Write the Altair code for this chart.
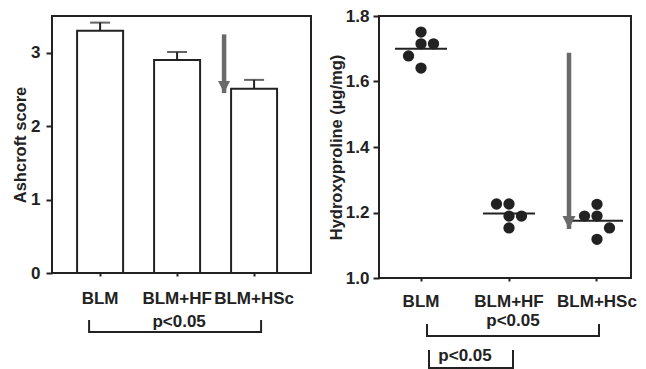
import altair as alt
import pandas as pd

# ---------------- data ----------------
groups = ["BLM", "BLM+HF", "BLM+HSc"]
ashcroft_mean = [3.30, 2.90, 2.51]
ashcroft_sem = [0.11, 0.11, 0.12]

hyp_group = ["BLM"] * 5 + ["BLM+HF"] * 5 + ["BLM+HSc"] * 5
hyp_value = [1.678, 1.751, 1.715, 1.715, 1.641,
             1.226, 1.226, 1.189, 1.189, 1.153,
             1.189, 1.225, 1.189, 1.153, 1.118]
hyp_col = [-1, 0, 0, 1, 0,
           -1, 0, 0, 1, 0,
           -1, 0, 0, 1, 0]

left_arrow = {"group": ["BLM+HSc"], "y0": [3.25], "y1": [2.45]}
right_arrow = {"group": ["BLM+HSc"], "y0": [1.688], "y1": [1.150]}

pval_label = "p<0.05"

left_y_ticks = [0, 1, 2, 3]
right_y_ticks = [1.0, 1.1, 1.2, 1.3, 1.4, 1.5, 1.6, 1.7, 1.8]

# ---------------- style ----------------
INK = "#222222"
ARROW = "#6a6a6a"
FONT = "Liberation Sans"
LW, LH = 259, 257
RW, RH = 252, 262
HEAD = "M-1,-2L1,-2L0,0Z"

xs_left = alt.Scale(type="band", domain=groups, paddingInner=0.4, paddingOuter=0.382, align=0.425)
xs_right = alt.Scale(type="band", domain=groups, paddingInner=0.432, paddingOuter=0.148, align=0.654)


def bracket(a, b, h, line_dy, tip_dy, text_dy, off_a, off_b, scale,
            text_on, text_off, text_align):
    horiz = alt.Chart(pd.DataFrame({"group": [a], "group2": [b]})).mark_rule(
        color=INK, strokeWidth=2, xOffset=off_a, x2Offset=off_b).encode(
        x=alt.X("group:N", scale=scale, title=None), x2="group2:N", y=alt.value(h + line_dy))
    end_a = alt.Chart(pd.DataFrame({"group": [a]})).mark_rule(
        color=INK, strokeWidth=2, xOffset=off_a).encode(
        x=alt.X("group:N", scale=scale, title=None),
        y=alt.value(h + tip_dy), y2=alt.value(h + line_dy + 1))
    end_b = alt.Chart(pd.DataFrame({"group": [b]})).mark_rule(
        color=INK, strokeWidth=2, xOffset=off_b).encode(
        x=alt.X("group:N", scale=scale, title=None),
        y=alt.value(h + tip_dy), y2=alt.value(h + line_dy + 1))
    txt = alt.Chart(pd.DataFrame({"group": [text_on], "label": [pval_label]})).mark_text(
        font=FONT, fontWeight="bold", fontSize=17, color=INK,
        align=text_align, baseline="middle", xOffset=text_off).encode(
        x=alt.X("group:N", scale=scale, title=None), y=alt.value(h + text_dy), text="label:N")
    return [horiz, end_a, end_b, txt]


# ---------------- left panel ----------------
ash = pd.DataFrame({"group": groups, "mean": ashcroft_mean, "sem": ashcroft_sem})
ash["upper"] = ash["mean"] + ash["sem"]

LT = "Ashcroft score"
ly = alt.Scale(domain=[0, 3.5], nice=False, zero=True)
lbase = alt.Chart(ash)
bars = lbase.mark_bar(fill="white", stroke=INK, strokeWidth=2, width=46).encode(
    x=alt.X("group:N", scale=xs_left, sort=groups, title=None,
            axis=alt.Axis(labelAngle=0, tickSize=3, labelPadding=14)),
    y=alt.Y("mean:Q", scale=ly, title=LT,
            axis=alt.Axis(values=left_y_ticks, format="d", tickSize=6,
                          labelPadding=6, titlePadding=2)),
)
err = lbase.mark_rule(color=INK, strokeWidth=2).encode(
    x=alt.X("group:N", scale=xs_left, title=None), y=alt.Y("mean:Q", title=LT), y2="upper:Q")
cap = lbase.mark_tick(color=INK, thickness=2, size=20, orient="horizontal").encode(
    x=alt.X("group:N", scale=xs_left, title=None), y=alt.Y("upper:Q", title=LT))

la = alt.Chart(pd.DataFrame(left_arrow))
la_line = la.mark_rule(color=ARROW, strokeWidth=4.5, xOffset=-30).encode(
    x=alt.X("group:N", scale=xs_left, title=None),
    y=alt.Y("y0:Q", scale=ly, title=LT), y2="y1:Q")
la_head = la.mark_point(shape=HEAD, size=144, filled=True, color=ARROW, opacity=1,
                        strokeWidth=0, xOffset=-30).encode(
    x=alt.X("group:N", scale=xs_left, title=None),
    y=alt.Y("y1:Q", scale=ly, title=LT))

left = alt.layer(
    bars, err, cap, la_line, la_head,
    *bracket("BLM", "BLM+HSc", LH, 59, 47, 49, -11, 7, xs_left, "BLM+HF", 2, "center"),
).properties(width=LW, height=LH)

# ---------------- right panel ----------------
hyp = pd.DataFrame({"group": hyp_group, "value": hyp_value, "col": hyp_col})
ry = alt.Scale(domain=[1.0, 1.8], nice=False, zero=False)
RT = "Hydroxyproline (µg/mg)"
rbase = alt.Chart(hyp)
dots = rbase.mark_circle(size=128, color=INK, opacity=1).encode(
    x=alt.X("group:N", scale=xs_right, sort=groups, title=None,
            axis=alt.Axis(labelAngle=0, tickSize=3, labelPadding=12)),
    xOffset=alt.XOffset("col:Q", scale=alt.Scale(domain=[-2, 2])),
    y=alt.Y("value:Q", scale=ry, title=RT,
            axis=alt.Axis(values=right_y_ticks, tickSize=6, labelPadding=4, titlePadding=1,
                          labelExpr="round(datum.value*10) % 2 == 0 ? format(datum.value, '.1f') : ''")),
)
means = rbase.mark_tick(color=INK, thickness=2, size=52, orient="horizontal").encode(
    x=alt.X("group:N", scale=xs_right, title=None), y=alt.Y("mean(value):Q", scale=ry, title=RT))

ra = alt.Chart(pd.DataFrame(right_arrow))
ra_line = ra.mark_rule(color=ARROW, strokeWidth=4.5, xOffset=-28).encode(
    x=alt.X("group:N", scale=xs_right, title=None),
    y=alt.Y("y0:Q", scale=ry, title=RT), y2="y1:Q")
ra_head = ra.mark_point(shape=HEAD, size=169, filled=True, color=ARROW, opacity=1,
                        strokeWidth=0, xOffset=-28).encode(
    x=alt.X("group:N", scale=xs_right, title=None),
    y=alt.Y("y1:Q", scale=ry, title=RT))

right = alt.layer(
    dots, means, ra_line, ra_head,
    *bracket("BLM", "BLM+HSc", RH, 58, 46, 43, 6, 2, xs_right, "BLM+HF", 4, "center"),
    *bracket("BLM", "BLM+HF", RH, 90, 72, 78, 8, 4, xs_right, "BLM", 44, "center"),
).properties(width=RW, height=RH)

chart = alt.hconcat(left, right, spacing=15).properties(
    padding={"left": 11, "top": 6, "right": 5, "bottom": 0}
).configure_view(
    stroke=INK, strokeWidth=2
).configure_axis(
    grid=False, domain=False,
    labelFont=FONT, labelFontWeight="bold", labelFontSize=17, labelColor=INK,
    titleFont=FONT, titleFontWeight="bold", titleFontSize=16.5, titleColor=INK,
    tickColor=INK, tickWidth=2,
).configure_concat(spacing=15)

chart.save("out.html", embed_options={"renderer": "svg", "actions": False})
